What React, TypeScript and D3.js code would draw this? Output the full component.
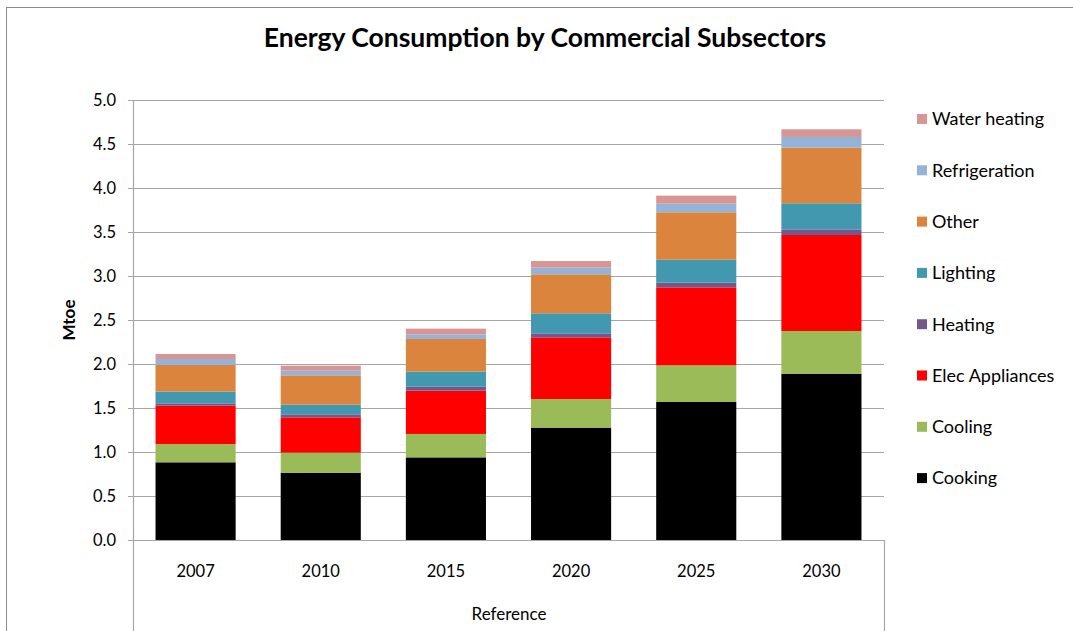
import React from "react";
import * as d3 from "d3";

const years = ["2007", "2010", "2015", "2020", "2025", "2030"];
const seriesNames = ["Cooking", "Cooling", "Elec Appliances", "Heating", "Lighting", "Other", "Refrigeration", "Water heating"];
const cooking = [0.883, 0.765, 0.939, 1.277, 1.568, 1.89];
const cooling = [0.207, 0.228, 0.266, 0.325, 0.417, 0.485];
const elecAppliances = [0.436, 0.401, 0.492, 0.701, 0.886, 1.091];
const heating = [0.027, 0.034, 0.045, 0.045, 0.053, 0.064];
const lighting = [0.133, 0.11, 0.171, 0.228, 0.261, 0.296];
const other = [0.303, 0.333, 0.371, 0.443, 0.539, 0.632];
const refrigeration = [0.068, 0.053, 0.053, 0.076, 0.098, 0.122];
const waterHeating = [0.057, 0.057, 0.065, 0.075, 0.091, 0.087];
const yTicks = [0, 0.5, 1, 1.5, 2, 2.5, 3, 3.5, 4, 4.5, 5];
const colors = ["#000000", "#9BBB59", "#FF0000", "#71588F", "#4198AF", "#DB843D", "#95B3D7", "#D99594"];

const seriesValues = [cooking, cooling, elecAppliances, heating, lighting, other, refrigeration, waterHeating];

export default function App() {
  const W = 1073, H = 631;
  const left = 133, right = 884, top = 100, bottom = 540;
  const x = d3.scaleBand<string>().domain(years).range([left, right]).paddingInner(0.36).paddingOuter(0.18);
  const y = d3.scaleLinear().domain([0, 5]).range([bottom, top]);

  const rows = years.map((yr, i) => {
    const o: any = { year: yr };
    seriesNames.forEach((s, k) => (o[s] = seriesValues[k][i]));
    return o;
  });
  const stacked = d3.stack<any>().keys(seriesNames)(rows);
  const font = "Lato, 'Open Sans', sans-serif";
  const legendOrder = [...seriesNames].reverse();

  return (
    <svg width={W} height={H} style={{ position: "absolute", left: 0, top: 0, display: "block", background: "#fff" }} fontFamily={font}>
      <rect x={6.5} y={7.5} width={1100} height={700} fill="#fff" stroke="#8c8c8c" strokeWidth={1} />
      <text x={545} y={47} textAnchor="middle" fontSize={26.5} fontWeight="bold" fill="#000">
        Energy Consumption by Commercial Subsectors
      </text>
      {yTicks.map((t) => (
        <g key={t}>
          <line x1={128} x2={right} y1={Math.round(y(t)) + 0.5} y2={Math.round(y(t)) + 0.5} stroke="#a6a6a6" strokeWidth={1.2} />
          <text x={116} y={y(t)} dy="0.35em" textAnchor="end" fontSize={16.5} fill="#000">
            {d3.format(".1f")(t)}
          </text>
        </g>
      ))}
      {stacked.map((layer, k) => (
        <g key={layer.key} fill={colors[k]}>
          {layer.map((d, i) => (
            <rect key={i} x={x(years[i])} y={y(d[1])} width={x.bandwidth()} height={y(d[0]) - y(d[1])} />
          ))}
        </g>
      ))}
      <line x1={left + 0.5} x2={left + 0.5} y1={top} y2={H} stroke="#a6a6a6" strokeWidth={1.2} />
      <line x1={right + 0.5} x2={right + 0.5} y1={bottom} y2={H} stroke="#a6a6a6" strokeWidth={1.2} />
      <line x1={left} x2={right} y1={bottom + 0.5} y2={bottom + 0.5} stroke="#a6a6a6" strokeWidth={1.2} />
      {years.map((yr) => (
        <text key={yr} x={(x(yr) as number) + x.bandwidth() / 2} y={577} textAnchor="middle" fontSize={16.5} fill="#000">
          {yr}
        </text>
      ))}
      <text x={509} y={620} textAnchor="middle" fontSize={17} fill="#000">Reference</text>
      <text transform={`translate(75,320) rotate(-90)`} textAnchor="middle" fontSize={17} fontWeight="bold" fill="#000">Mtoe</text>
      {legendOrder.map((s, i) => {
        const cy = 119 + i * 51.3;
        const k = seriesNames.indexOf(s);
        return (
          <g key={s}>
            <rect x={917} y={cy - 5} width={10} height={10} fill={colors[k]} />
            <text x={932} y={cy} dy="0.35em" fontSize={18} fill="#000">{s}</text>
          </g>
        );
      })}
    </svg>
  );
}
